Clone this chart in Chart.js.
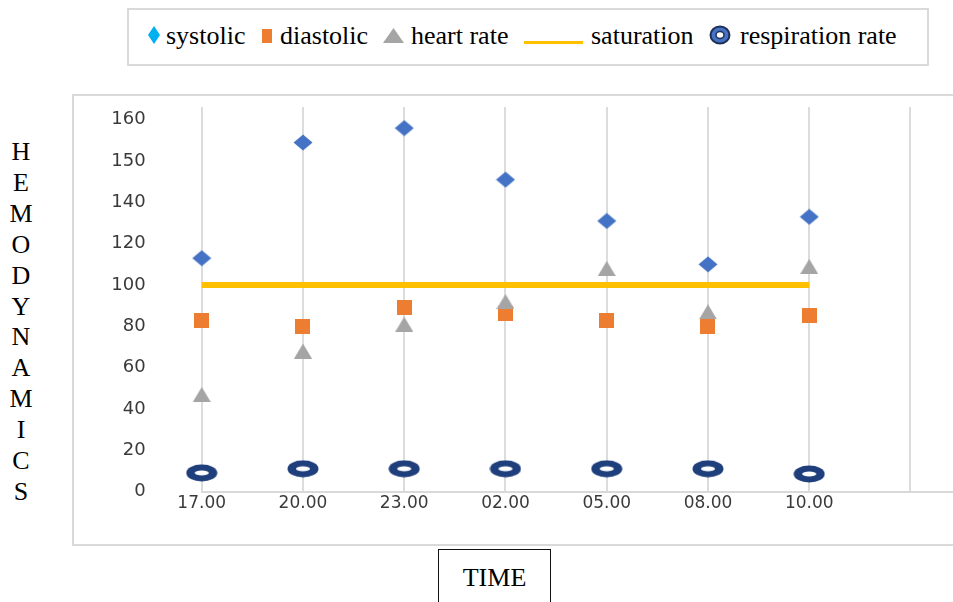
<!DOCTYPE html>
<html>
<head>
<meta charset="utf-8">
<script src="https://cdn.jsdelivr.net/npm/chart.js@4.4.1/dist/chart.umd.min.js"></script>
<style>
    html, body { margin: 0; padding: 0; background: #fff; overflow: hidden; }
    body { width: 953px; height: 602px; position: relative; font-family: 'Liberation Serif', 'Times New Roman', serif; color: #000; }
    #frame { position: absolute; left: 72px; top: 94px; width: 1000px; height: 452px; border: 2px solid #d9d9d9; box-sizing: border-box; }
    #legendBox { position: absolute; left: 127px; top: 8px; width: 802px; height: 58px; border: 2px solid #d9d9d9; box-sizing: border-box; }
    .lg { position: absolute; top: 21px; font-size: 26px; line-height: 30px; white-space: nowrap; }
    .icon { position: absolute; }
    #yTitle { position: absolute; left: 0; top: 137px; width: 42px; text-align: center; font-size: 26px; line-height: 30.9px; }
    #xTitle { position: absolute; left: 438px; top: 549px; width: 113px; height: 80px; border: 1px solid #111; box-sizing: border-box; text-align: center; font-size: 26px; line-height: 30px; padding-top: 13px; }
    #chartBox { position: absolute; left: 0; top: 0; width: 963px; height: 602px; }
</style>
</head>
<body>
<div id="frame"></div>
<div id="legendBox"></div>

<svg class="icon" style="left:148px;top:26px" width="12" height="18"><polygon points="6,0 12,9 6,18 0,9" fill="#00b0f0"/></svg>
<span class="lg" style="left:166px">systolic</span>
<svg class="icon" style="left:262px;top:29px" width="10" height="14"><rect x="0" y="0" width="10" height="14" fill="#ed7d31"/></svg>
<span class="lg" style="left:280px">diastolic</span>
<svg class="icon" style="left:383px;top:28px" width="21" height="15"><polygon points="10.5,0 21,15 0,15" fill="#a5a5a5"/></svg>
<span class="lg" style="left:411px">heart rate</span>
<div class="icon" style="left:524px;top:41px;width:59px;height:3px;background:#ffc000"></div>
<span class="lg" style="left:591px">saturation</span>
<svg class="icon" style="left:709px;top:25px" width="22" height="20"><ellipse cx="11" cy="10" rx="9.5" ry="8.5" fill="#4472c4" stroke="#1f2f55" stroke-width="2"/><ellipse cx="11" cy="10" rx="4" ry="3.5" fill="#fff" stroke="#1f2f55" stroke-width="1.5"/></svg>
<span class="lg" style="left:740px">respiration rate</span>

<div id="yTitle">H<br>E<br>M<br>O<br>D<br>Y<br>N<br>A<br>M<br>I<br>C<br>S</div>
<div id="xTitle">TIME</div>

<div id="chartBox"><canvas id="hemoChart" width="963" height="602"></canvas></div>

<script>
// values (y in axis units, axis runs 0..180 with the top two ticks labelled 150/160)
const timeLabels = ['17.00', '20.00', '23.00', '02.00', '05.00', '08.00', '10.00'];
const systolic = [113, 169, 176, 151, 131, 110, 133];
const diastolic = [83, 80, 89, 86, 83, 80, 85];
const heartRate = [47, 68, 81, 92, 108, 87, 109];
const saturation = [100, 100, 100, 100, 100, 100, 100];
const respirationRate = [9, 11, 11, 11, 11, 11, 8.5];
const yTickValues = [0, 20, 40, 60, 80, 100, 120, 140, 160, 180];
const yTickLabels = ['0', '20', '40', '60', '80', '100', '120', '140', '150', '160'];

const toPoints = (arr) => arr.map((v, i) => ({ x: i, y: v }));

function marker(w, h, draw) {
    const c = document.createElement('canvas');
    c.width = w;
    c.height = h;
    draw(c.getContext('2d'));
    return c;
}

const diamond = marker(20, 17, (ctx) => {
    ctx.fillStyle = '#4472c4';
    ctx.beginPath();
    ctx.moveTo(10, 0.5); ctx.lineTo(19.5, 8.5); ctx.lineTo(10, 16.5); ctx.lineTo(0.5, 8.5);
    ctx.closePath();
    ctx.fill();
});
const square = marker(15, 15, (ctx) => {
    ctx.fillStyle = '#ed7d31';
    ctx.fillRect(0, 0, 15, 15);
});
const triangle = marker(18, 15, (ctx) => {
    ctx.fillStyle = '#a5a5a5';
    ctx.beginPath();
    ctx.moveTo(9, 0); ctx.lineTo(18, 15); ctx.lineTo(0, 15);
    ctx.closePath();
    ctx.fill();
});
const ring = marker(32, 18, (ctx) => {
    ctx.fillStyle = '#1f3e7c';
    ctx.beginPath();
    ctx.ellipse(16, 9, 15.5, 8.5, 0, 0, Math.PI * 2);
    ctx.fill();
    ctx.fillStyle = '#ffffff';
    ctx.beginPath();
    ctx.ellipse(16, 9, 7, 2.5, 0, 0, Math.PI * 2);
    ctx.fill();
});

const markerSet = (label, data, style, order) => ({
    label,
    data: toPoints(data),
    showLine: false,
    pointStyle: style,
    pointRadius: 9,
    pointHoverRadius: 9,
    clip: false,
    order,
});

new Chart(document.getElementById('hemoChart'), {
    type: 'line',
    data: {
        datasets: [
            markerSet('systolic', systolic, diamond, 5),
            markerSet('diastolic', diastolic, square, 4),
            markerSet('heart rate', heartRate, triangle, 3),
            {
                label: 'saturation',
                data: toPoints(saturation),
                borderColor: '#ffc000',
                borderWidth: 6,
                pointRadius: 0,
                fill: false,
                clip: false,
                order: 2,
            },
            markerSet('respiration rate', respirationRate, ring, 1),
        ],
    },
    options: {
        responsive: false,
        animation: false,
        devicePixelRatio: 1,
        events: [],
        layout: { padding: { top: 107, left: 0, right: 0, bottom: 0 } },
        plugins: {
            legend: { display: false },
            tooltip: { enabled: false },
        },
        scales: {
            x: {
                type: 'linear',
                min: 0,
                max: 7.42,
                afterBuildTicks: (scale) => {
                    scale.ticks = [];
                    for (let i = 0; i <= timeLabels.length; i++) scale.ticks.push({ value: i });
                },
                afterFit: (scale) => { scale.height = 110.5; },
                ticks: {
                    callback: (value) => timeLabels[value] ?? '',
                    font: { family: 'DejaVu Sans', size: 17 },
                    color: '#3a3a3a',
                    padding: 2,
                    maxRotation: 0,
                    autoSkip: false,
                },
                grid: { color: '#dcdcdc', lineWidth: 2, drawTicks: false },
                border: { color: '#d9d9d9', width: 2 },
            },
            y: {
                min: 0,
                max: 186.2,
                afterBuildTicks: (scale) => {
                    scale.ticks = yTickValues.map((v) => ({ value: v }));
                },
                afterFit: (scale) => { scale.width = 201.7; },
                ticks: {
                    callback: (value, index) => yTickLabels[index],
                    font: { family: 'DejaVu Sans', size: 18 },
                    color: '#3a3a3a',
                    padding: 56,
                },
                grid: { display: false, drawTicks: false },
                border: { display: false },
            },
        },
    },
});
</script>
</body>
</html>
